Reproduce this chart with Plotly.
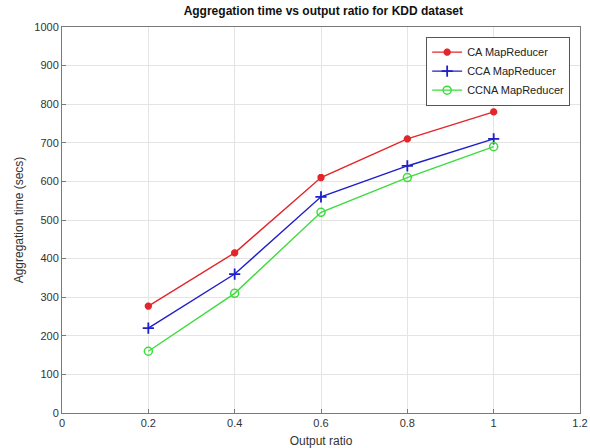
import plotly.graph_objects as go

output_ratio = [0.2, 0.4, 0.6, 0.8, 1.0]
ca_time = [277, 415, 610, 710, 780]
cca_time = [220, 360, 560, 640, 710]
ccna_time = [160, 310, 520, 610, 690]

x_ticks = [0, 0.2, 0.4, 0.6, 0.8, 1, 1.2]
x_tick_text = ["0", "0.2", "0.4", "0.6", "0.8", "1", "1.2"]
y_ticks = list(range(0, 1001, 100))

fig = go.Figure()
fig.add_trace(go.Scatter(
    x=output_ratio, y=ca_time, name="CA MapReducer", mode="lines+markers",
    line=dict(color="#e3262a", width=1.4),
    marker=dict(symbol="asterisk-open", size=6, color="#e3262a",
                line=dict(color="#e3262a", width=2.5)),
))
fig.add_trace(go.Scatter(
    x=output_ratio, y=cca_time, name="CCA MapReducer", mode="lines+markers",
    line=dict(color="#1f1fc8", width=1.4),
    marker=dict(symbol="cross-thin-open", size=8, color="#1f1fc8",
                line=dict(color="#1f1fc8", width=1.8)),
))
fig.add_trace(go.Scatter(
    x=output_ratio, y=ccna_time, name="CCNA MapReducer", mode="lines+markers",
    line=dict(color="#3ddc3d", width=1.4),
    marker=dict(symbol="circle-open", size=8, color="#3ddc3d",
                line=dict(color="#3ddc3d", width=1.5)),
))

axis_common = dict(
    showline=True, linecolor="#7a7a7a", linewidth=1, mirror=True,
    ticks="inside", ticklen=4, tickcolor="#7a7a7a",
    showgrid=True, gridcolor="#e4e4e4", gridwidth=1,
    zeroline=False, automargin=False,
    tickfont=dict(family="Liberation Sans, Arial", size=11, color="#333333"),
)

fig.update_layout(
    width=590, height=448,
    margin=dict(l=62, r=10, t=27, b=35),
    paper_bgcolor="white", plot_bgcolor="white",
    title=dict(text="<b>Aggregation time vs output ratio for KDD dataset</b>",
               x=0.548, xanchor="center", y=0.977, yanchor="middle",
               font=dict(family="Liberation Sans, Arial", size=12, color="#111111")),
    xaxis=dict(range=[0, 1.2], tickvals=x_ticks, ticktext=x_tick_text,
               title=dict(text="Output ratio", standoff=11,
                          font=dict(family="Liberation Sans, Arial", size=12, color="#333333")),
               **axis_common),
    yaxis=dict(range=[0, 1000], tickvals=y_ticks,
               title=dict(text="Aggregation time (secs)", standoff=8,
                          font=dict(family="Liberation Sans, Arial", size=12, color="#333333")),
               **axis_common),
    legend=dict(x=0.703, y=0.975, xanchor="left", yanchor="top",
                bgcolor="white", bordercolor="#555555", borderwidth=1,
                font=dict(family="Liberation Sans, Arial", size=11, color="#222222"),
                tracegroupgap=0, itemwidth=30),
    showlegend=True,
)

fig.write_html("out.html")
